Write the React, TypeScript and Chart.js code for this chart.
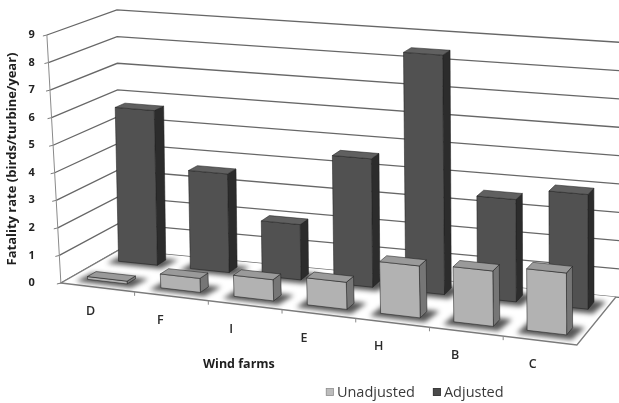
import React, { useEffect, useRef } from "react";
import { Chart, registerables } from "chart.js";

Chart.register(...registerables);

// Wind farms along the category axis
const farms = ["D", "F", "I", "E", "H", "B", "C"];
// Fatality rates (birds/turbine/year)
const unadjusted = [0.1, 0.5, 0.75, 0.95, 1.8, 1.9, 2.1];
const adjusted = [5.7, 3.6, 2.0, 4.6, 8.5, 3.6, 4.0];
const seriesNames = ["Unadjusted", "Adjusted"];
const yTicksMax = 9;
const yTitle = "Fatality rate (birds/turbine/year)";
const xTitle = "Wind farms";

const FONT = "'Open Sans', 'DejaVu Sans', sans-serif";

// face shades per series: front, top, right side
const shades = [
  { front: "#b2b2b2", top: "#9a9a9a", side: "#767676", key: "#bcbcbc" },
  { front: "#515151", top: "#606060", side: "#2c2c2c", key: "#4a4a4a" },
];
// depth band [front, back] of each series row on the floor (0 = front edge, 1 = back wall)
const rowDepth = [
  [0.17, 0.32],
  [0.71, 0.86],
];

const lerp = (a: number, b: number, t: number) => a + (b - a) * t;

// Draws the chart in a perspective box: floor, side and back walls, 3D columns.
const perspectiveBars = {
  id: "perspectiveBars",
  beforeDatasetsDraw(chart: any) {
    const { ctx, chartArea: ca, scales } = chart;
    const ys = scales.y;
    const L = ca.left;
    const B = ca.bottom;
    const H0 = ca.bottom - ca.top;

    // floor corners
    const FL = [L + 10, B];
    const FR = [L + 526, B + 62];
    const BL = [L + 68, B - 33];
    const BR = [L + 565, B + 14];
    // full axis height at each corner
    const hFL = H0, hFR = H0 * 1.08, hBL = H0 * 0.968, hBR = H0 * 1.028;
    // vertical lean (perspective convergence) at full height
    const lFL = 14, lFR = 1, lBL = 2, lBR = 0;

    const P = (u: number, d: number, t: number): [number, number] => {
      const x = lerp(lerp(FL[0], FR[0], u), lerp(BL[0], BR[0], u), d);
      const y = lerp(lerp(FL[1], FR[1], u), lerp(BL[1], BR[1], u), d);
      const h = lerp(lerp(hFL, hFR, u), lerp(hBL, hBR, u), d);
      const lean = lerp(lerp(lFL, lFR, u), lerp(lBL, lBR, u), d);
      return [x - t * lean, y - t * h];
    };
    const uOf = (px: number) => (px - L) / (ca.right - L);
    const frac = (v: number) => (B - ys.getPixelForValue(v)) / H0;

    const poly = (pts: [number, number][], fill?: string, stroke?: string, lw = 1) => {
      ctx.beginPath();
      ctx.moveTo(pts[0][0], pts[0][1]);
      for (let i = 1; i < pts.length; i++) ctx.lineTo(pts[i][0], pts[i][1]);
      ctx.closePath();
      if (fill) {
        ctx.fillStyle = fill;
        ctx.fill();
      }
      if (stroke) {
        ctx.strokeStyle = stroke;
        ctx.lineWidth = lw;
        ctx.stroke();
      }
    };
    const line = (pts: [number, number][], color: string, lw = 1) => {
      ctx.beginPath();
      ctx.moveTo(pts[0][0], pts[0][1]);
      for (let i = 1; i < pts.length; i++) ctx.lineTo(pts[i][0], pts[i][1]);
      ctx.strokeStyle = color;
      ctx.lineWidth = lw;
      ctx.stroke();
    };

    ctx.save();

    // walls: gridlines on side wall and back wall
    ys.ticks.forEach((tick: any) => {
      const t = frac(tick.value);
      line([P(0, 0, t), P(0, 1, t), P(1.015, 1, t)], "#676767", 1.3);
      line([[P(0, 0, t)[0] - 4, P(0, 0, t)[1] + 1], P(0, 0, t)], "#7a7a7a", 1);
    });
    line([P(0, 0, 0), P(0, 0, 1)], "#8a8a8a", 1);

    // floor
    poly([P(0, 0, 0), P(1, 0, 0), P(1, 1, 0), P(0, 1, 0)], "#ffffff");
    line([P(0, 1, 0), P(0, 0, 0), P(1, 0, 0), P(1, 1, 0)], "#7c7c7c", 1.3);
    // category separators on the floor's front edge
    for (let i = 1; i < farms.length; i++) {
      const u = i / farms.length;
      const p = P(u, 0, 0);
      line([p, [p[0], p[1] + 4]], "#8a8a8a", 1);
    }

    const metas = [chart.getDatasetMeta(0), chart.getDatasetMeta(1)];

    // soft shadows under the columns
    ctx.save();
    ctx.filter = "blur(2.5px)";
    metas.forEach((meta: any, s: number) => {
      const [d0, d1] = rowDepth[s];
      meta.data.forEach((el: any) => {
        const u0 = uOf(el.x - el.width / 2);
        const u1 = uOf(el.x + el.width / 2);
        poly(
          [P(u0 - 0.014, d0 - 0.08, 0), P(u1 + 0.016, d0 - 0.08, 0), P(u1 + 0.022, d1 + 0.03, 0), P(u0 - 0.01, d1 + 0.03, 0)],
          "rgba(30,30,30,0.75)"
        );
      });
    });
    ctx.restore();

    // columns, back row first
    [1, 0].forEach((s) => {
      const meta = metas[s];
      const [d0, d1] = rowDepth[s];
      const c = shades[s];
      meta.data.forEach((el: any) => {
        const u0 = uOf(el.x - el.width / 2);
        const u1 = uOf(el.x + el.width / 2);
        const t = (el.base - el.y) / H0;
        const edge = "rgba(30,30,30,0.6)";
        poly([P(u1, d0, 0), P(u1, d1, 0), P(u1, d1, t), P(u1, d0, t)], c.side, edge, 0.9);
        poly([P(u0, d0, 0), P(u1, d0, 0), P(u1, d0, t), P(u0, d0, t)], c.front, edge, 0.9);
        poly([P(u0, d0, t), P(u1, d0, t), P(u1, d1, t), P(u0, d1, t)], c.top, edge, 0.9);
      });
    });

    // category labels along the front edge
    ctx.fillStyle = "#2a2a2a";
    ctx.font = `600 12.5px ${FONT}`;
    ctx.textAlign = "center";
    ctx.textBaseline = "middle";
    const xs = scales.x;
    farms.forEach((name, i) => {
      const u = uOf(xs.getPixelForValue(i));
      const p = P(u, 0, 0);
      ctx.fillText(name, p[0] - 5 - 10 * Math.sin(Math.PI * u), p[1] + 24);
    });

    // category axis title
    ctx.font = `bold 12.5px ${FONT}`;
    ctx.fillStyle = "#1e1e1e";
    ctx.fillText(xTitle, L + 188, B + 81);

    // legend
    const ly = B + 109;
    let lx = L + 275;
    ctx.font = `14.5px ${FONT}`;
    ctx.textAlign = "left";
    seriesNames.forEach((name, s) => {
      ctx.fillStyle = shades[s].key;
      ctx.fillRect(lx, ly - 4, 8, 8);
      ctx.strokeStyle = s === 0 ? "#8a8a8a" : "#333";
      ctx.lineWidth = 0.6;
      ctx.strokeRect(lx + 0.3, ly - 3.7, 7.4, 7.4);
      ctx.fillStyle = "#3a3a3a";
      ctx.fillText(name, lx + 11, ly + 1);
      lx += ctx.measureText(name).width + 29;
    });

    ctx.restore();
    return false;
  },
};

export default function App() {
  const canvasRef = useRef<HTMLCanvasElement | null>(null);

  useEffect(() => {
    if (!canvasRef.current) return;
    const chart = new Chart(canvasRef.current, {
      type: "bar",
      data: {
        labels: farms,
        datasets: [
          { label: seriesNames[0], data: unadjusted, backgroundColor: shades[0].front },
          { label: seriesNames[1], data: adjusted, backgroundColor: shades[1].front },
        ],
      },
      options: {
        responsive: false,
        animation: false,
        layout: { padding: { top: 35, bottom: 120, left: 3, right: 11 } },
        datasets: { bar: { grouped: false, categoryPercentage: 1, barPercentage: 0.54 } },
        plugins: { legend: { display: false }, tooltip: { enabled: false } },
        scales: {
          x: { display: false },
          y: {
            min: 0,
            max: yTicksMax,
            ticks: { stepSize: 1, color: "#222", font: { family: FONT, size: 11, weight: "bold" }, padding: 8 },
            grid: { display: false },
            border: { display: false },
            title: {
              display: true,
              text: yTitle,
              color: "#1e1e1e",
              font: { family: FONT, size: 13, weight: "bold" },
              padding: { top: 1, bottom: 1 },
            },
          },
        },
      },
      plugins: [perspectiveBars],
    } as any);
    return () => chart.destroy();
  }, []);

  return (
    <div style={{ position: "fixed", left: 0, top: 0, width: 619, height: 403, background: "#fff" }}>
      <canvas ref={canvasRef} width={619} height={403} />
    </div>
  );
}
